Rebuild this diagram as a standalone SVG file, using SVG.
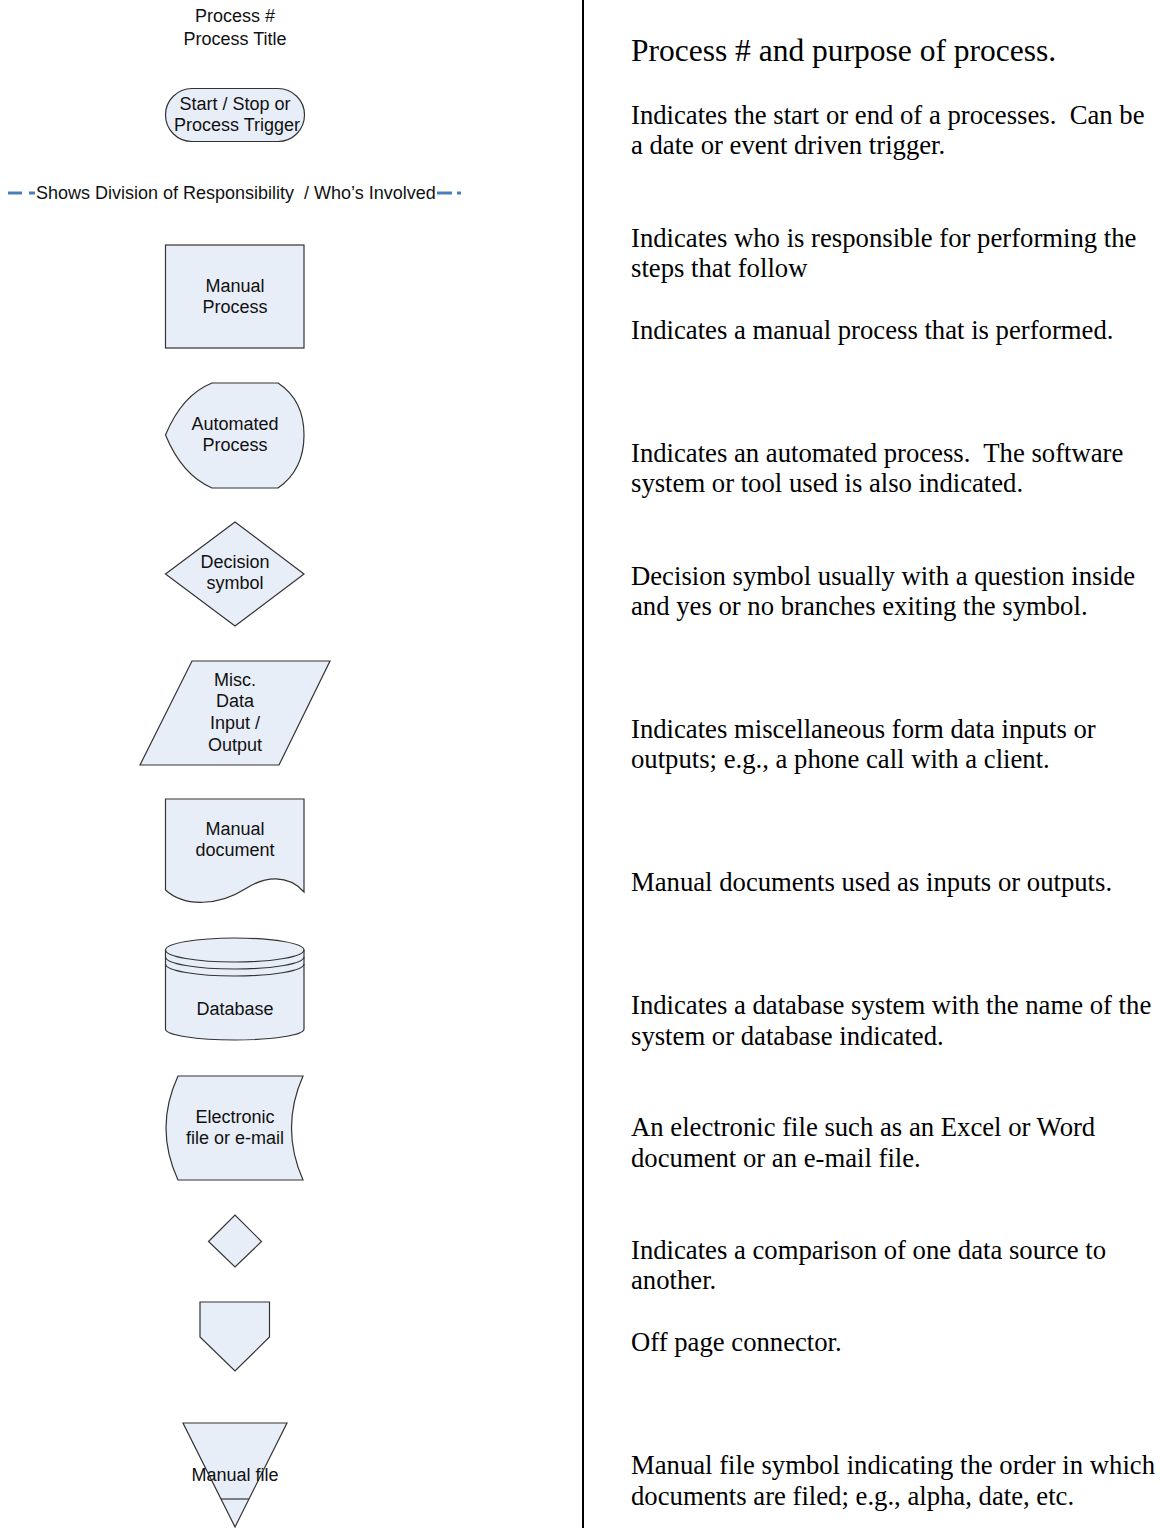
<svg xmlns="http://www.w3.org/2000/svg" width="1160" height="1528" viewBox="0 0 1160 1528">
<defs>
<style>
.shape{fill:#e8eef8;stroke:#333333;stroke-width:1.2}
.line{fill:none;stroke:#333333;stroke-width:1.2}
.lbl{font-family:"Liberation Sans",Arial,sans-serif;font-size:18px;fill:#111111;text-anchor:middle;white-space:pre}
.desc{font-family:"Liberation Serif","Times New Roman",serif;font-size:26.7px;fill:#000000;white-space:pre}
.swim{stroke:#4a7ebb;stroke-width:3;fill:none}
</style>
</defs>
<rect width="1160" height="1528" fill="#ffffff"/>
<g id="divider"><line x1="583" y1="0" x2="583" y2="1528" stroke="#000000" stroke-width="2"/></g>
<g id="connectors"></g>
<g id="title">
<text class="lbl" x="235" y="22">Process #</text>
<text class="lbl" x="235" y="45">Process Title</text>
</g>
<g id="start-stop">
<rect class="shape" x="165.5" y="88.5" width="139" height="53" rx="26.5" ry="26.5"/>
<text class="lbl" x="235" y="110">Start / Stop or</text>
<text class="lbl" x="237" y="131">Process Trigger</text>
</g>
<g id="division">
<line class="swim" x1="8" y1="193" x2="22" y2="193"/>
<line class="swim" x1="29" y1="193" x2="35" y2="193"/>
<text class="lbl" x="36" y="199" style="text-anchor:start">Shows Division of Responsibility  / Who’s Involved</text>
<line class="swim" x1="437" y1="193" x2="452" y2="193"/>
<line class="swim" x1="457" y1="193" x2="461" y2="193"/>
</g>
<g id="manual-process">
<rect class="shape" x="165.5" y="245" width="138.5" height="103"/>
<text class="lbl" x="235" y="292">Manual</text>
<text class="lbl" x="235" y="313">Process</text>
</g>
<g id="automated-process">
<path class="shape" d="M165.5,435 Q182,395 212,383 L278,383 Q304,400 304,435 Q304,470 278,488 L212,488 Q182,475 165.5,435 Z"/>
<text class="lbl" x="235" y="430">Automated</text>
<text class="lbl" x="235" y="451">Process</text>
</g>
<g id="decision">
<path class="shape" d="M165.5,574 L235,522 L304,574 L235,626 Z"/>
<text class="lbl" x="235" y="568">Decision</text>
<text class="lbl" x="235" y="589">symbol</text>
</g>
<g id="data-io">
<path class="shape" d="M192,661 L330,661 L279,765 L140,765 Z"/>
<text class="lbl" x="235" y="686">Misc.</text>
<text class="lbl" x="235" y="707">Data</text>
<text class="lbl" x="235" y="729">Input /</text>
<text class="lbl" x="235" y="751">Output</text>
</g>
<g id="manual-document">
<path class="shape" d="M165.5,799 L304,799 L304,892 C288,874 265,876 245,889 C220,905 185,908 165.5,890 Z"/>
<text class="lbl" x="235" y="835">Manual</text>
<text class="lbl" x="235" y="856">document</text>
</g>
<g id="database">
<path class="shape" d="M165.5,950 A69.25,12 0 0 1 304,950 L304,1029 A69.25,11 0 0 1 165.5,1029 Z"/>
<path class="line" d="M165.5,950 A69.25,12 0 0 0 304,950"/>
<path class="line" d="M165.5,957 A69.25,12 0 0 0 304,957"/>
<path class="line" d="M165.5,964 A69.25,12 0 0 0 304,964"/>
<text class="lbl" x="235" y="1015">Database</text>
</g>
<g id="electronic-file">
<path class="shape" d="M178,1076 L303,1076 Q280,1128 303,1180 L178,1180 Q154,1128 178,1076 Z"/>
<text class="lbl" x="235" y="1123">Electronic</text>
<text class="lbl" x="235" y="1144">file or e-mail</text>
</g>
<g id="comparison">
<path class="shape" d="M208.5,1241.5 L235,1215 L261.5,1241.5 L235,1267 Z"/>
</g>
<g id="off-page">
<path class="shape" d="M200,1302 L269.5,1302 L269.5,1337 L235,1371 L200,1337 Z"/>
</g>
<g id="manual-file">
<path class="shape" d="M183,1423 L287,1423 L235,1527 Z"/>
<line class="line" x1="221" y1="1499" x2="249" y2="1499"/>
<text class="lbl" x="235" y="1481">Manual file</text>
</g>
<g id="descriptions">
<text class="desc" x="631" y="61" style="font-size:31.5px">Process # and purpose of process.</text>
<text class="desc" x="631" y="124">Indicates the start or end of a processes.  Can be</text>
<text class="desc" x="631" y="154">a date or event driven trigger.</text>
<text class="desc" x="631" y="247">Indicates who is responsible for performing the</text>
<text class="desc" x="631" y="277">steps that follow</text>
<text class="desc" x="631" y="339">Indicates a manual process that is performed.</text>
<text class="desc" x="631" y="462">Indicates an automated process.  The software</text>
<text class="desc" x="631" y="492">system or tool used is also indicated.</text>
<text class="desc" x="631" y="585">Decision symbol usually with a question inside</text>
<text class="desc" x="631" y="615">and yes or no branches exiting the symbol.</text>
<text class="desc" x="631" y="738">Indicates miscellaneous form data inputs or</text>
<text class="desc" x="631" y="768">outputs; e.g., a phone call with a client.</text>
<text class="desc" x="631" y="891">Manual documents used as inputs or outputs.</text>
<text class="desc" x="631" y="1014">Indicates a database system with the name of the</text>
<text class="desc" x="631" y="1045">system or database indicated.</text>
<text class="desc" x="631" y="1136">An electronic file such as an Excel or Word</text>
<text class="desc" x="631" y="1167">document or an e-mail file.</text>
<text class="desc" x="631" y="1259">Indicates a comparison of one data source to</text>
<text class="desc" x="631" y="1289">another.</text>
<text class="desc" x="631" y="1351">Off page connector.</text>
<text class="desc" x="631" y="1474">Manual file symbol indicating the order in which</text>
<text class="desc" x="631" y="1505">documents are filed; e.g., alpha, date, etc.</text>
</g>
</svg>
